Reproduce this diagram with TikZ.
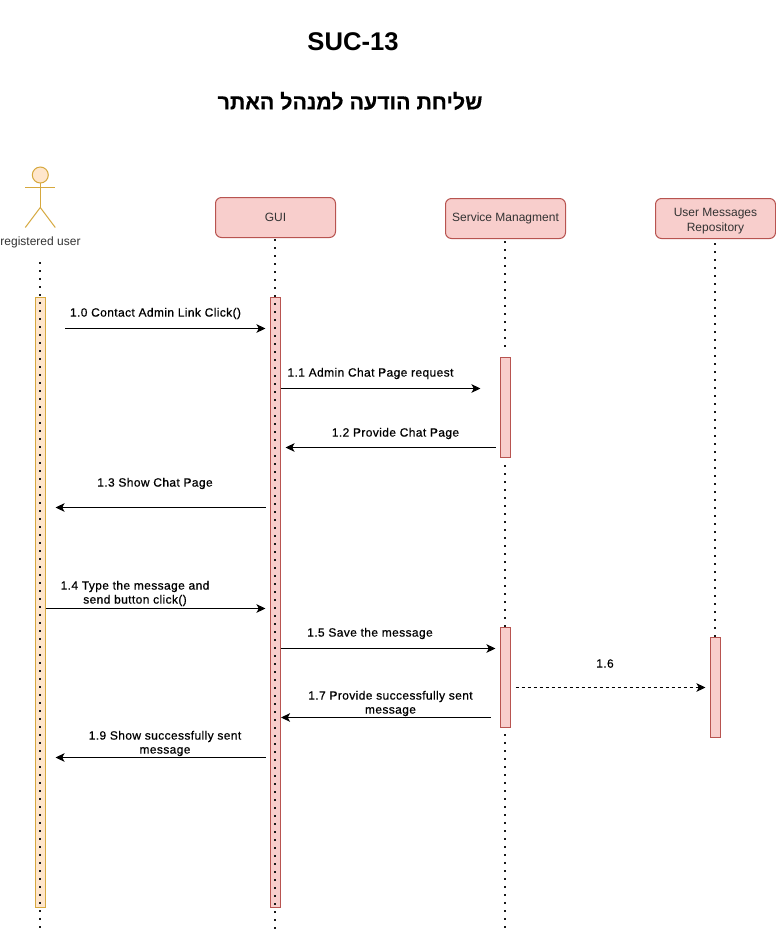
\documentclass[tikz,border=0pt]{standalone}
\usepackage{fontspec}
\setmainfont{Liberation Sans}
\newfontfamily\hebfont[Script=Hebrew,FakeBold=0.4]{Liberation Sans}
\newfontfamily\labfont[LetterSpace=3.2,FakeBold=0.5]{Liberation Sans}
\TeXXeTstate=1
\usetikzlibrary{arrows.meta}
\definecolor{redfill}{HTML}{F8CECC}
\definecolor{redline}{HTML}{B85450}
\definecolor{orfill}{HTML}{FFE6CC}
\definecolor{orline}{HTML}{D6A83E}
\definecolor{inktext}{HTML}{333333}
\tikzset{
  x=1pt,y=-1pt,
  every node/.style={inner sep=0pt,outer sep=0pt,text=inktext},
  partbox/.style={draw=redline,fill=redfill,line width=1pt,rounded corners=6pt,minimum width=120pt,minimum height=40pt,font=\fontsize{12}{15}\selectfont,align=center},
  redbar/.style={draw=redline,fill=redfill,line width=1pt,minimum width=10pt},
  orbar/.style={draw=orline,fill=orfill,line width=1pt,minimum width=10pt},
  lifeline/.style={black!90,line width=1.6pt,dash pattern=on 1.6pt off 6.4pt},
  msg/.style={black,line width=1pt,-{Stealth[length=9pt,width=8.5pt,inset=2.2pt]}},
  msgdash/.style={msg,dash pattern=on 3pt off 3pt},
  lab/.style={font=\fontsize{12}{14}\labfont,align=center,text=black},
  actorline/.style={draw=orline,line width=1pt},
}
\newcommand{\num}[1]{#1}
\begin{document}
\begin{tikzpicture}
\useasboundingbox (0,0) rectangle (776,930);
\fill[white] (0,0) rectangle (776,930);

% titles
\node (title) at (353,41.5) {\fontsize{25.6}{28}\selectfont\bfseries\color{black}SUC-13};
\node (subtitle) at (350,101) {\fontsize{21.4}{28}\selectfont\bfseries\hebfont\color{black}\beginR שליחת הודעה למנהל האתר\endR};

% actor
\node[circle,draw=orline,fill=orfill,line width=1pt,minimum size=16pt] (head) at (40.3,175) {};
\coordinate (hip) at (40.3,207.5);
\coordinate (armL) at (25.3,187.5);
\coordinate (armR) at (55.3,187.5);
\coordinate (footL) at (25.3,227.5);
\coordinate (footR) at (55.3,227.5);
\draw[actorline] (head.south) -- (hip);
\draw[actorline] (armL) -- (armR);
\draw[actorline] (footL) -- (hip) -- (footR);
\node[font=\fontsize{12}{14}\selectfont] (userlab) at (40.5,242) {registered user};

% participants
\node[partbox] (gui) at (275.5,217.5) {GUI};
\node[partbox] (svc) at (505.5,218.5) {Service Managment};
\node[partbox] (repo) at (715.5,218.5) {\rule{0pt}{13pt}User Messages\\Repository};

% long activation bars (lifelines show through)
\node[orbar,minimum height=610pt] (barU) at (40.5,602.5) {};
\node[redbar,minimum height=610pt] (barG) at (275.5,602.5) {};

% service / repository activation bars
\node[redbar,minimum height=100pt] (barS1) at (505.5,407.5) {};
\node[redbar,minimum height=100pt] (barS2) at (505.5,677.5) {};
\node[redbar,minimum height=100pt] (barR) at (715.5,687.5) {};

% lifelines
\coordinate (uTop) at (40.2,262);
\coordinate (uEnd) at (40.2,929);
\coordinate (gTop) at (275.1,239);
\coordinate (gEnd) at (275.1,929);
\coordinate (s0) at (505.2,241);
\coordinate (s1) at (505.2,349);
\coordinate (s2) at (505.2,465);
\coordinate (s3) at (505.2,627);
\coordinate (s4) at (505.2,734);
\coordinate (sEnd) at (505.2,929);
\coordinate (r0) at (715.2,243);
\coordinate (r1) at (715.2,637);
\draw[lifeline] (uTop) -- (uEnd);
\draw[lifeline] (gTop) -- (gEnd);
\draw[lifeline] (s0) -- (s1);
\draw[lifeline] (s2) -- (s3);
\draw[lifeline] (s4) -- (sEnd);
\draw[lifeline] (r0) -- (r1);

% message end points
\coordinate (m0a) at (65,328.5);   \coordinate (m0b) at (265.5,328.5);
\coordinate (m1a) at (280.5,388.5);\coordinate (m1b) at (480.5,388.5);
\coordinate (m2a) at (495.5,447.5);\coordinate (m2b) at (285.5,447.5);
\coordinate (m3a) at (265.5,507.5);\coordinate (m3b) at (55.5,507.5);
\coordinate (m4a) at (45.5,608.5); \coordinate (m4b) at (265.5,608.5);
\coordinate (m5a) at (280.5,648.5);\coordinate (m5b) at (495.5,648.5);
\coordinate (m6a) at (515.5,687.5);\coordinate (m6b) at (705.5,687.5);
\coordinate (m7a) at (490.5,717.5);\coordinate (m7b) at (281,717.5);
\coordinate (m9a) at (265.5,757.5);\coordinate (m9b) at (55.5,757.5);

\draw[msg] (m0a) -- (m0b);
\draw[msg] (m1a) -- (m1b);
\draw[msg] (m2a) -- (m2b);
\draw[msg] (m3a) -- (m3b);
\draw[msg] (m4a) -- (m4b);
\draw[msg] (m5a) -- (m5b);
\draw[msgdash] (m6a) -- (m6b);
\draw[msg] (m7a) -- (m7b);
\draw[msg] (m9a) -- (m9b);

% message labels
\node[lab] (l0) at (155.5,313.5) {\num{1.0} Contact Admin Link Click()};
\node[lab] (l1) at (370.5,373.5) {\num{1.1} Admin Chat Page request};
\node[lab] (l2) at (395.5,433.5) {\num{1.2} Provide Chat Page};
\node[lab] (l3) at (155,483.5) {\num{1.3} Show Chat Page};
\node[lab] (l4) at (135,593.5) {\num{1.4} Type the message and\\send button click()};
\node[lab] (l5) at (370,633.5) {\num{1.5} Save the message};
\node[lab] (l6) at (605,663.5) {\num{1.6}};
\node[lab] (l7) at (390.5,703.5) {\num{1.7} Provide successfully sent\\message};
\node[lab] (l9) at (165,743.5) {\num{1.9} Show successfully sent\\message};
\end{tikzpicture}
\end{document}
